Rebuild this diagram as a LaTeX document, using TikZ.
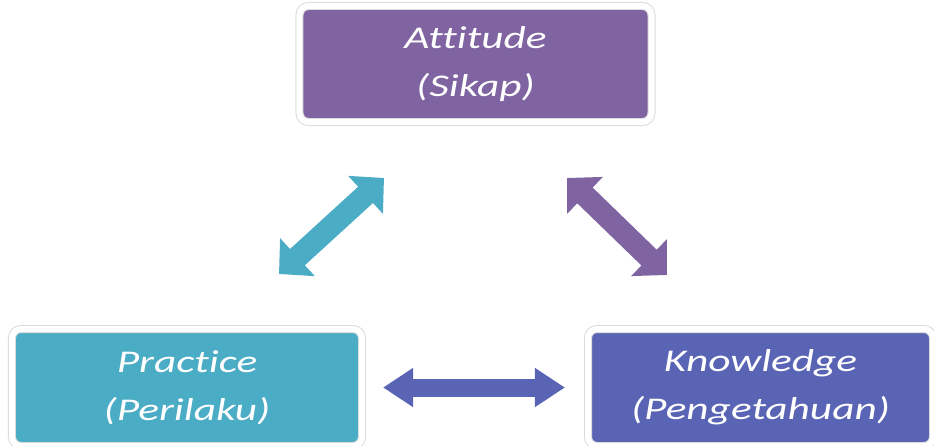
\documentclass[tikz,border=0pt]{standalone}
\usepackage{fontspec}
\usetikzlibrary{arrows.meta}
\newfontfamily\boxfont{Carlito}[FakeStretch=1.37, Ligatures=NoCommon]
\definecolor{attpurple}{HTML}{8064A2}
\definecolor{praccyan}{HTML}{4BACC6}
\definecolor{knowblue}{HTML}{5A64B4}
\tikzset{
 % rounded box with a white rim and a faint grey edge
 kapbox/.style={
  rectangle, rounded corners=0.27cm, fill=#1,
  draw=black!14, line width=0.03cm, double=white, double distance=0.18cm,
  outer sep=0pt, text=white, align=center,
  font=\boxfont\itshape\fontsize{27}{41}\selectfont
 },
 % fat double-headed arrow
 fatarrow/.style args={#1/#2/#3/#4}{
  draw=#1, line width=#2,
  {Triangle[length=#4, width=#3]}-{Triangle[length=#4, width=#3]}
 }
}

\begin{document}
\begin{tikzpicture}[x=0.03cm, y=-0.03cm]
 \useasboundingbox (0, 0) rectangle (934, 445);

 \node [kapbox=attpurple, minimum width=10.56cm, minimum height=3.48cm] (attitude) at (475.5, 64) {Attitude\\(Sikap)};
 \node [kapbox=praccyan, minimum width=10.5cm, minimum height=3.51cm] (practice) at (187, 387.5) {Practice\\(Perilaku)};
 \node [kapbox=knowblue, minimum width=10.35cm, minimum height=3.51cm] (knowledge) at (760.5, 387.5) {Knowledge\\(Pengetahuan)};

 \coordinate (pa-low) at (279, 274);
 \coordinate (pa-high) at (384, 178);
 \coordinate (ak-high) at (567, 178);
 \coordinate (ak-low) at (667, 275);

 \draw [fatarrow=praccyan/0.66cm/1.5cm/0.75cm] (pa-low) -- (pa-high);
 \draw [fatarrow=attpurple/0.66cm/1.5cm/0.75cm] (ak-high) -- (ak-low);
 \draw [fatarrow=knowblue/0.54cm/1.11cm/0.9cm, shorten <=0.63cm, shorten >=0.69cm] (practice.east) -- (knowledge.west);
\end{tikzpicture}
\end{document}
